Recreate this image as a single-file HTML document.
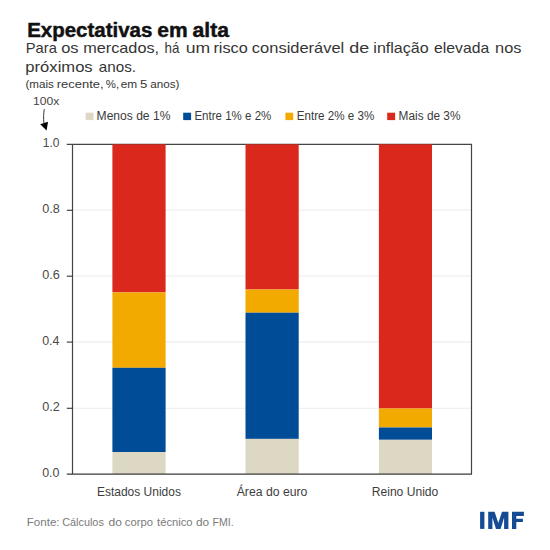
<!DOCTYPE html>
<html><head><meta charset="utf-8">
<style>
html,body{margin:0;padding:0;background:#fff;width:550px;height:550px;overflow:hidden}
svg{display:block}
text{font-family:"Liberation Sans",sans-serif}
</style></head>
<body>
<svg width="550" height="550" viewBox="0 0 550 550">
<rect width="550" height="550" fill="#fff"/>
<text x="27.19" y="36.50" font-size="19.5" font-weight="bold" stroke="#111" stroke-width="0.45" fill="#111" textLength="125.20" lengthAdjust="spacingAndGlyphs">Expectativas</text>
<text x="157.39" y="36.50" font-size="19.5" font-weight="bold" stroke="#111" stroke-width="0.45" fill="#111" textLength="30.39" lengthAdjust="spacingAndGlyphs">em</text>
<text x="192.56" y="36.50" font-size="19.5" font-weight="bold" stroke="#111" stroke-width="0.45" fill="#111" textLength="36.39" lengthAdjust="spacingAndGlyphs">alta</text>
<text x="25.77" y="53.00" font-size="15" fill="#353535" textLength="31.06" lengthAdjust="spacingAndGlyphs">Para</text>
<text x="61.18" y="53.00" font-size="15" fill="#353535" textLength="17.37" lengthAdjust="spacingAndGlyphs">os</text>
<text x="83.22" y="53.00" font-size="15" fill="#353535" textLength="75.87" lengthAdjust="spacingAndGlyphs">mercados,</text>
<text x="164.51" y="53.00" font-size="15" fill="#353535" textLength="14.83" lengthAdjust="spacingAndGlyphs">há</text>
<text x="185.83" y="53.00" font-size="15" fill="#353535" textLength="24.46" lengthAdjust="spacingAndGlyphs">um</text>
<text x="213.42" y="53.00" font-size="15" fill="#353535" textLength="34.31" lengthAdjust="spacingAndGlyphs">risco</text>
<text x="251.88" y="53.00" font-size="15" fill="#353535" textLength="92.39" lengthAdjust="spacingAndGlyphs">considerável</text>
<text x="349.30" y="53.00" font-size="15" fill="#353535" textLength="19.92" lengthAdjust="spacingAndGlyphs">de</text>
<text x="373.33" y="53.00" font-size="15" fill="#353535" textLength="55.32" lengthAdjust="spacingAndGlyphs">inflação</text>
<text x="434.11" y="53.00" font-size="15" fill="#353535" textLength="55.14" lengthAdjust="spacingAndGlyphs">elevada</text>
<text x="495.11" y="53.00" font-size="15" fill="#353535" textLength="26.37" lengthAdjust="spacingAndGlyphs">nos</text>
<text x="25.39" y="72.00" font-size="15" fill="#353535" textLength="67.28" lengthAdjust="spacingAndGlyphs">próximos</text>
<text x="98.84" y="72.00" font-size="15" fill="#353535" textLength="37.24" lengthAdjust="spacingAndGlyphs">anos.</text>
<text x="25.44" y="87.60" font-size="11.5" fill="#353535" textLength="28.44" lengthAdjust="spacingAndGlyphs">(mais</text>
<text x="56.75" y="87.60" font-size="11.5" fill="#353535" textLength="46.84" lengthAdjust="spacingAndGlyphs">recente,</text>
<text x="105.80" y="87.60" font-size="11.5" fill="#353535" textLength="13.31" lengthAdjust="spacingAndGlyphs">%,</text>
<text x="120.78" y="87.60" font-size="11.5" fill="#353535" textLength="16.47" lengthAdjust="spacingAndGlyphs">em</text>
<text x="140.13" y="87.60" font-size="11.5" fill="#353535" textLength="7.34" lengthAdjust="spacingAndGlyphs">5</text>
<text x="150.19" y="87.60" font-size="11.5" fill="#353535" textLength="29.20" lengthAdjust="spacingAndGlyphs">anos)</text>
<text x="33.05" y="104.70" font-size="11.5" fill="#444" textLength="26.25" lengthAdjust="spacingAndGlyphs">100x</text>
<text x="96.59" y="120.00" font-size="12" fill="#3a3a3a" textLength="73.80" lengthAdjust="spacingAndGlyphs">Menos de 1%</text>
<text x="194.44" y="120.00" font-size="12" fill="#3a3a3a" textLength="76.84" lengthAdjust="spacingAndGlyphs">Entre 1% e 2%</text>
<text x="296.73" y="120.00" font-size="12" fill="#3a3a3a" textLength="77.56" lengthAdjust="spacingAndGlyphs">Entre 2% e 3%</text>
<text x="398.61" y="120.00" font-size="12" fill="#3a3a3a" textLength="61.83" lengthAdjust="spacingAndGlyphs">Mais de 3%</text>
<text x="96.94" y="496.00" font-size="12.5" fill="#3d3d3d" textLength="84.00" lengthAdjust="spacingAndGlyphs">Estados Unidos</text>
<text x="236.70" y="496.00" font-size="12.5" fill="#3d3d3d" textLength="70.72" lengthAdjust="spacingAndGlyphs">Área do euro</text>
<text x="371.73" y="496.00" font-size="12.5" fill="#3d3d3d" textLength="66.60" lengthAdjust="spacingAndGlyphs">Reino Unido</text>
<text x="26.80" y="526.00" font-size="11.5" fill="#7a7a7a" textLength="32.72" lengthAdjust="spacingAndGlyphs">Fonte:</text>
<text x="62.23" y="526.00" font-size="11.5" fill="#7a7a7a" textLength="41.61" lengthAdjust="spacingAndGlyphs">Cálculos</text>
<text x="108.48" y="526.00" font-size="11.5" fill="#7a7a7a" textLength="13.40" lengthAdjust="spacingAndGlyphs">do</text>
<text x="124.81" y="526.00" font-size="11.5" fill="#7a7a7a" textLength="28.11" lengthAdjust="spacingAndGlyphs">corpo</text>
<text x="157.06" y="526.00" font-size="11.5" fill="#7a7a7a" textLength="35.57" lengthAdjust="spacingAndGlyphs">técnico</text>
<text x="195.99" y="526.00" font-size="11.5" fill="#7a7a7a" textLength="13.18" lengthAdjust="spacingAndGlyphs">do</text>
<text x="212.58" y="526.00" font-size="11.5" fill="#7a7a7a" textLength="21.14" lengthAdjust="spacingAndGlyphs">FMI.</text>
<text x="42.74" y="147.30" font-size="12.5" fill="#4a4a4a" textLength="16.74" lengthAdjust="spacingAndGlyphs">1.0</text>
<text x="42.20" y="213.20" font-size="12.5" fill="#4a4a4a" textLength="17.55" lengthAdjust="spacingAndGlyphs">0.8</text>
<text x="42.20" y="279.10" font-size="12.5" fill="#4a4a4a" textLength="17.55" lengthAdjust="spacingAndGlyphs">0.6</text>
<text x="42.20" y="345.00" font-size="12.5" fill="#4a4a4a" textLength="17.29" lengthAdjust="spacingAndGlyphs">0.4</text>
<text x="42.20" y="411.00" font-size="12.5" fill="#4a4a4a" textLength="17.55" lengthAdjust="spacingAndGlyphs">0.2</text>
<text x="42.20" y="476.90" font-size="12.5" fill="#4a4a4a" textLength="17.29" lengthAdjust="spacingAndGlyphs">0.0</text>
<path d="M44.3,109.2 C43.5,113 43.4,118 43.9,123" fill="none" stroke="#222" stroke-width="0.9"/>
<path d="M40.2,124.3 L48,121.7 L46.6,130.6 Z" fill="#000"/>
<rect x="85.6" y="112.7" width="7.9" height="7.4" fill="#dcd8c3"/>
<rect x="183.2" y="112.7" width="7.9" height="7.4" fill="#004c97"/>
<rect x="285.4" y="112.7" width="7.8" height="7.4" fill="#f2a900"/>
<rect x="387.2" y="112.7" width="7.9" height="7.4" fill="#da291c"/>
<g stroke="#f0f0f0" stroke-width="1.3">
<line x1="72.5" y1="210.1" x2="471.5" y2="210.1"/>
<line x1="72.5" y1="276.2" x2="471.5" y2="276.2"/>
<line x1="72.5" y1="342" x2="471.5" y2="342"/>
<line x1="72.5" y1="408.3" x2="471.5" y2="408.3"/>
</g>
<line x1="66.8" y1="144.4" x2="472" y2="144.4" stroke="#444" stroke-width="1.2"/>
<rect x="112.40" y="144.30" width="53.20" height="148.10" fill="#da291c"/>
<rect x="112.40" y="292.40" width="53.20" height="75.40" fill="#f2a900"/>
<rect x="112.40" y="367.80" width="53.20" height="84.20" fill="#004c97"/>
<rect x="112.40" y="452.00" width="53.20" height="22.00" fill="#dcd8c3"/>
<rect x="245.50" y="144.30" width="53.20" height="145.20" fill="#da291c"/>
<rect x="245.50" y="289.50" width="53.20" height="23.20" fill="#f2a900"/>
<rect x="245.50" y="312.70" width="53.20" height="126.20" fill="#004c97"/>
<rect x="245.50" y="438.90" width="53.20" height="35.10" fill="#dcd8c3"/>
<rect x="378.90" y="144.30" width="53.10" height="264.20" fill="#da291c"/>
<rect x="378.90" y="408.50" width="53.10" height="19.00" fill="#f2a900"/>
<rect x="378.90" y="427.50" width="53.10" height="12.30" fill="#004c97"/>
<rect x="378.90" y="439.80" width="53.10" height="34.20" fill="#dcd8c3"/>
<g stroke="#444" stroke-width="1.2" fill="none">
<line x1="471.5" y1="144" x2="471.5" y2="474"/>
<line x1="72.5" y1="144" x2="72.5" y2="474"/>
<line x1="66.8" y1="474.2" x2="472" y2="474.2" stroke-width="1.25" stroke="#3a3a3a"/>
<line x1="66.8" y1="210.3" x2="72.5" y2="210.3"/>
<line x1="66.8" y1="276.2" x2="72.5" y2="276.2"/>
<line x1="66.8" y1="342.1" x2="72.5" y2="342.1"/>
<line x1="66.8" y1="408.3" x2="72.5" y2="408.3"/>
</g>
<g font-size="12.5" fill="#4a4a4a" text-anchor="end">

</g>
<g fill="#154b94">
<rect x="480.1" y="511.8" width="4.3" height="17.1"/>
<path d="M488.2,528.9 L488.2,511.8 L494.6,511.8 L498.3,523 L502,511.8 L508.4,511.8 L508.4,528.9 L504.1,528.9 L504.1,517.5 L500.6,528.9 L496,528.9 L492.4,517.5 L492.4,528.9 Z"/>
<path d="M512,528.9 L512,511.8 L523.9,511.8 L523.9,515.9 L516.3,515.9 L516.3,518.7 L522.9,518.7 L522.9,522 L516.3,522 L516.3,528.9 Z"/>
</g>
</svg>
</body></html>
